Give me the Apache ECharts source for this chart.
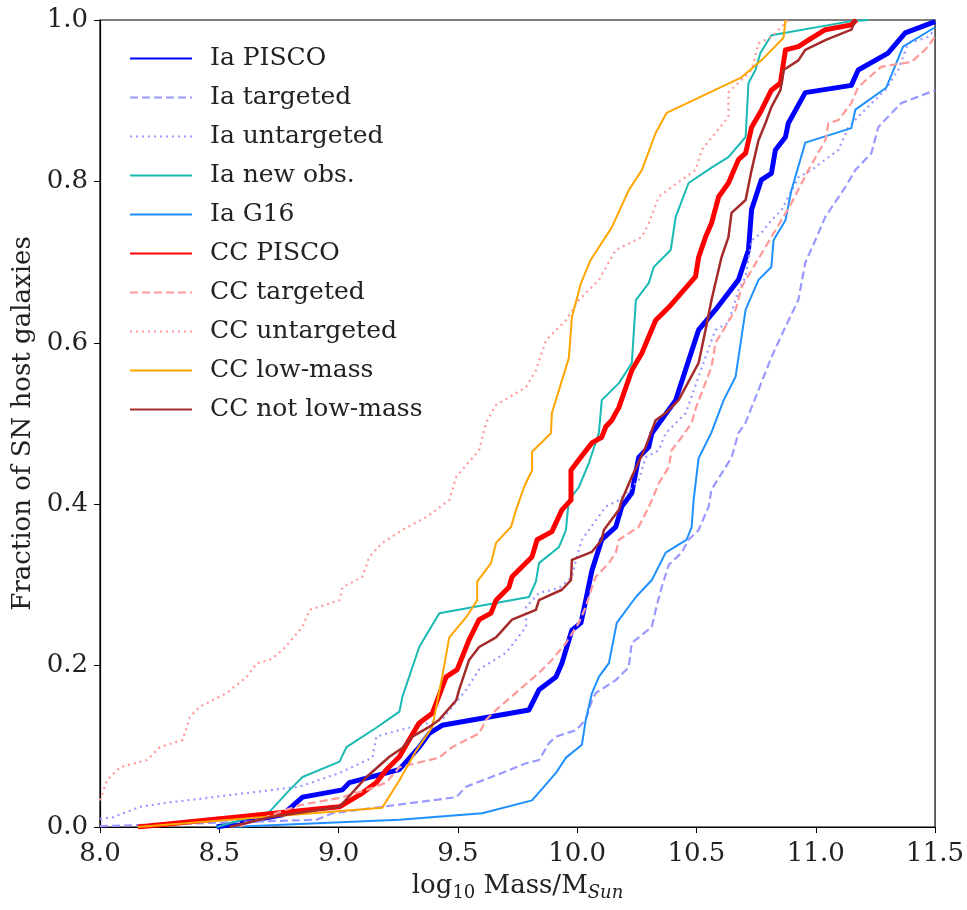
<!DOCTYPE html>
<html>
<head>
<meta charset="utf-8">
<script src="https://cdn.jsdelivr.net/npm/echarts@6/dist/echarts.min.js"></script>
<style>
  html, body { margin: 0; padding: 0; background: #fff; }
  #main { width: 967px; height: 910px; }
</style>
</head>
<body>
<div id="main"></div>
<script>
var chartDom = document.getElementById('main');
var myChart = echarts.init(chartDom);
var option;

// [log10 mass, cumulative fraction]
var iaPisco = [[8.489,0],[8.765,0.015],[8.849,0.037],[9.016,0.046],[9.045,0.055],[9.254,0.071],[9.338,0.099],[9.380,0.116],[9.434,0.126],[9.798,0.145],[9.840,0.170],[9.911,0.186],[9.936,0.203],[9.978,0.244],[10.016,0.253],[10.036,0.281],[10.062,0.318],[10.103,0.356],[10.162,0.372],[10.187,0.397],[10.229,0.414],[10.258,0.458],[10.300,0.471],[10.313,0.488],[10.413,0.529],[10.509,0.616],[10.580,0.641],[10.676,0.678],[10.718,0.715],[10.731,0.765],[10.772,0.802],[10.814,0.810],[10.831,0.839],[10.873,0.855],[10.885,0.872],[10.956,0.910],[11.149,0.919],[11.178,0.938],[11.303,0.959],[11.375,0.984],[11.5,0.998]];
var iaTargeted = [[8.0,0.001],[8.907,0.009],[8.974,0.017],[9.338,0.031],[9.493,0.037],[9.535,0.050],[9.685,0.067],[9.786,0.079],[9.840,0.083],[9.882,0.104],[9.911,0.112],[9.995,0.120],[10.036,0.133],[10.062,0.157],[10.078,0.166],[10.162,0.182],[10.216,0.198],[10.229,0.228],[10.313,0.248],[10.329,0.269],[10.354,0.297],[10.384,0.325],[10.438,0.340],[10.467,0.356],[10.509,0.368],[10.551,0.397],[10.563,0.418],[10.622,0.446],[10.647,0.458],[10.676,0.488],[10.706,0.501],[10.731,0.520],[10.814,0.582],[10.873,0.620],[10.927,0.653],[10.956,0.699],[10.998,0.727],[11.040,0.756],[11.124,0.793],[11.166,0.814],[11.233,0.835],[11.262,0.867],[11.303,0.880],[11.358,0.897],[11.5,0.913]];
var iaUntargeted = [[8.0,0.010],[8.054,0.012],[8.167,0.025],[8.280,0.030],[8.556,0.040],[8.836,0.050],[9.004,0.067],[9.142,0.086],[9.158,0.112],[9.255,0.120],[9.434,0.133],[9.476,0.149],[9.535,0.170],[9.589,0.195],[9.631,0.203],[9.702,0.216],[9.786,0.248],[9.786,0.273],[9.840,0.290],[9.924,0.296],[9.978,0.310],[9.995,0.331],[10.020,0.356],[10.049,0.368],[10.120,0.397],[10.175,0.405],[10.229,0.421],[10.258,0.430],[10.287,0.458],[10.342,0.467],[10.371,0.488],[10.455,0.513],[10.509,0.558],[10.563,0.603],[10.580,0.616],[10.634,0.625],[10.676,0.665],[10.706,0.682],[10.731,0.727],[10.772,0.736],[10.814,0.752],[10.856,0.764],[10.927,0.805],[10.982,0.814],[11.040,0.827],[11.095,0.839],[11.136,0.867],[11.207,0.889],[11.249,0.901],[11.291,0.913],[11.345,0.938],[11.387,0.971],[11.471,0.979],[11.5,0.988]];
var iaNewObs = [[8.489,0],[8.711,0.019],[8.795,0.046],[8.849,0.062],[9.004,0.081],[9.033,0.099],[9.158,0.123],[9.255,0.143],[9.267,0.161],[9.338,0.223],[9.422,0.265],[9.798,0.285],[9.827,0.304],[9.840,0.327],[9.924,0.347],[9.953,0.368],[9.965,0.405],[10.007,0.421],[10.049,0.451],[10.091,0.488],[10.103,0.529],[10.175,0.550],[10.229,0.575],[10.246,0.653],[10.300,0.674],[10.321,0.694],[10.392,0.715],[10.413,0.756],[10.467,0.798],[10.563,0.817],[10.634,0.830],[10.706,0.855],[10.718,0.922],[10.747,0.938],[10.768,0.959],[10.814,0.981],[11.136,0.998],[11.220,1.0]];
var iaG16 = [[8.544,0],[9.255,0.009],[9.602,0.017],[9.811,0.033],[9.911,0.067],[9.953,0.086],[10.020,0.102],[10.036,0.133],[10.062,0.166],[10.091,0.186],[10.133,0.203],[10.166,0.253],[10.246,0.285],[10.313,0.306],[10.371,0.340],[10.459,0.356],[10.480,0.372],[10.488,0.405],[10.509,0.457],[10.563,0.489],[10.614,0.529],[10.664,0.558],[10.706,0.641],[10.760,0.678],[10.814,0.694],[10.823,0.727],[10.873,0.752],[10.898,0.789],[10.956,0.848],[11.149,0.866],[11.166,0.889],[11.295,0.916],[11.366,0.967],[11.5,0.991]];
var ccPisco = [[8.159,0],[9.004,0.025],[9.100,0.042],[9.158,0.055],[9.200,0.071],[9.255,0.087],[9.296,0.108],[9.338,0.129],[9.393,0.141],[9.451,0.186],[9.497,0.195],[9.547,0.232],[9.589,0.257],[9.639,0.265],[9.660,0.281],[9.714,0.297],[9.727,0.310],[9.811,0.335],[9.832,0.356],[9.894,0.366],[9.936,0.393],[9.974,0.405],[9.974,0.442],[10.007,0.455],[10.062,0.476],[10.103,0.483],[10.120,0.496],[10.145,0.504],[10.175,0.520],[10.229,0.566],[10.271,0.587],[10.329,0.628],[10.384,0.644],[10.496,0.682],[10.509,0.706],[10.538,0.731],[10.563,0.748],[10.593,0.781],[10.634,0.798],[10.676,0.827],[10.706,0.835],[10.731,0.867],[10.772,0.888],[10.814,0.913],[10.852,0.922],[10.873,0.963],[10.927,0.967],[10.969,0.975],[11.040,0.988],[11.149,0.994],[11.170,1.0]];
var ccTargeted = [[8.585,0.001],[8.836,0.027],[9.004,0.036],[9.117,0.046],[9.200,0.055],[9.255,0.074],[9.422,0.086],[9.476,0.099],[9.589,0.116],[9.618,0.133],[9.660,0.145],[9.769,0.173],[9.840,0.191],[9.894,0.207],[9.953,0.228],[10.007,0.253],[10.036,0.273],[10.062,0.297],[10.078,0.310],[10.133,0.327],[10.162,0.340],[10.175,0.356],[10.258,0.372],[10.287,0.389],[10.313,0.405],[10.342,0.426],[10.384,0.446],[10.396,0.467],[10.438,0.483],[10.480,0.501],[10.497,0.519],[10.563,0.570],[10.580,0.600],[10.664,0.641],[10.689,0.669],[10.731,0.690],[10.814,0.731],[10.856,0.752],[10.898,0.773],[10.969,0.814],[11.040,0.851],[11.053,0.872],[11.095,0.876],[11.149,0.897],[11.178,0.917],[11.274,0.942],[11.400,0.948],[11.458,0.963],[11.5,0.979]];
var ccUntargeted = [[8.0,0.033],[8.029,0.058],[8.084,0.074],[8.197,0.083],[8.251,0.099],[8.347,0.108],[8.376,0.136],[8.418,0.149],[8.531,0.166],[8.615,0.186],[8.657,0.203],[8.711,0.207],[8.765,0.219],[8.849,0.248],[8.878,0.269],[9.004,0.281],[9.016,0.297],[9.100,0.310],[9.129,0.335],[9.183,0.352],[9.267,0.368],[9.367,0.384],[9.464,0.405],[9.493,0.434],[9.589,0.467],[9.618,0.501],[9.660,0.523],[9.786,0.545],[9.827,0.566],[9.869,0.603],[9.953,0.628],[10.007,0.653],[10.091,0.678],[10.162,0.715],[10.271,0.731],[10.300,0.748],[10.342,0.781],[10.396,0.793],[10.496,0.814],[10.522,0.839],[10.634,0.880],[10.634,0.910],[10.689,0.926],[10.731,0.938],[10.760,0.971],[10.814,0.979],[10.885,1.0]];
var ccLowMass = [[8.159,0],[9.183,0.024],[9.255,0.058],[9.326,0.095],[9.393,0.124],[9.434,0.186],[9.464,0.235],[9.535,0.260],[9.581,0.281],[9.581,0.304],[9.639,0.327],[9.660,0.352],[9.723,0.372],[9.744,0.393],[9.777,0.421],[9.811,0.442],[9.811,0.465],[9.890,0.488],[9.894,0.513],[9.965,0.581],[9.978,0.632],[10.016,0.674],[10.057,0.703],[10.145,0.743],[10.216,0.789],[10.271,0.814],[10.329,0.860],[10.375,0.885],[10.689,0.929],[10.772,0.950],[10.865,0.978],[10.873,1.0]];
var ccNotLowMass = [[8.544,0],[8.711,0.012],[9.004,0.025],[9.117,0.062],[9.213,0.087],[9.267,0.098],[9.309,0.112],[9.380,0.124],[9.422,0.133],[9.493,0.157],[9.505,0.170],[9.547,0.207],[9.589,0.223],[9.660,0.235],[9.727,0.257],[9.827,0.269],[9.840,0.281],[9.936,0.294],[9.974,0.306],[9.978,0.331],[10.062,0.341],[10.103,0.356],[10.112,0.368],[10.175,0.393],[10.187,0.405],[10.229,0.434],[10.287,0.471],[10.329,0.504],[10.371,0.513],[10.425,0.529],[10.509,0.575],[10.538,0.616],[10.563,0.653],[10.605,0.706],[10.634,0.731],[10.647,0.761],[10.706,0.777],[10.731,0.814],[10.760,0.851],[10.789,0.872],[10.814,0.892],[10.852,0.913],[10.865,0.938],[10.927,0.950],[10.956,0.963],[11.040,0.975],[11.149,0.988],[11.166,1.0]];

var names = ['Ia PISCO', 'Ia targeted', 'Ia untargeted', 'Ia new obs.', 'Ia G16',
             'CC PISCO', 'CC targeted', 'CC untargeted', 'CC low-mass', 'CC not low-mass'];
var curves = [iaPisco, iaTargeted, iaUntargeted, iaNewObs, iaG16,
              ccPisco, ccTargeted, ccUntargeted, ccLowMass, ccNotLowMass];
var styles = [
  { color: '#0000ff', width: 5, type: 'solid' },
  { color: '#9999ff', width: 2.2, type: [8, 4] },
  { color: '#9999ff', width: 2.2, type: [2, 4] },
  { color: '#19b9b4', width: 2, type: 'solid' },
  { color: '#1e90ff', width: 2, type: 'solid' },
  { color: '#ff0000', width: 5, type: 'solid' },
  { color: '#ff9999', width: 2.2, type: [8, 4] },
  { color: '#ff9999', width: 2.2, type: [2, 4] },
  { color: '#ffa500', width: 2, type: 'solid' },
  { color: '#a52a2a', width: 2.5, type: 'solid' }
];

var font = 'DejaVu Serif';

option = {
  animation: false,
  grid: {
    left: 100, right: 30, top: 20, bottom: 83,
    show: true, borderColor: '#000', borderWidth: 1.2
  },
  legend: {
    data: names,
    orient: 'vertical',
    left: 124, top: 41,
    itemWidth: 62, itemHeight: 12, itemGap: 14,
    itemStyle: { opacity: 0 },
    textStyle: { fontFamily: font, fontSize: 25, color: '#222', padding: [0, 0, 0, 13] }
  },
  xAxis: {
    type: 'value', min: 8, max: 11.5, interval: 0.5,
    name: '{n|log}{s|10}{n| Mass/M}{i|Sun}',
    nameLocation: 'middle', nameGap: 44,
    nameTextStyle: {
      rich: {
        n: { fontFamily: font, fontSize: 26, color: '#222' },
        s: { fontFamily: font, fontSize: 18, color: '#222', padding: [13, 0, 0, 0] },
        i: { fontFamily: font, fontSize: 18, fontStyle: 'italic', color: '#222', padding: [13, 0, 0, 0] }
      }
    },
    splitLine: { show: false },
    axisLine: { lineStyle: { color: '#000', width: 1.2 } },
    axisTick: { show: true, length: 6, lineStyle: { color: '#000' } },
    axisLabel: {
      fontFamily: font, fontSize: 26, color: '#222', margin: 14,
      formatter: function (v) { return v.toFixed(1); }
    }
  },
  yAxis: {
    type: 'value', min: 0, max: 1, interval: 0.2,
    name: 'Fraction of SN host galaxies',
    nameLocation: 'middle', nameGap: 48,
    nameTextStyle: { fontFamily: font, fontSize: 26, color: '#222' },
    splitLine: { show: false },
    axisLine: { show: true, lineStyle: { color: '#000', width: 1.2 } },
    axisTick: { show: true, length: 6, lineStyle: { color: '#000' } },
    axisLabel: {
      fontFamily: font, fontSize: 26, color: '#222', margin: 12,
      formatter: function (v) { return v.toFixed(1); }
    }
  },
  series: names.map(function (n, i) {
    return {
      name: n,
      type: 'line',
      data: curves[i],
      symbol: 'none',
      clip: true,
      color: styles[i].color,
      lineStyle: { color: styles[i].color, width: styles[i].width, type: styles[i].type, join: 'round' }
    };
  })
};

option && myChart.setOption(option);
</script>
</body>
</html>
